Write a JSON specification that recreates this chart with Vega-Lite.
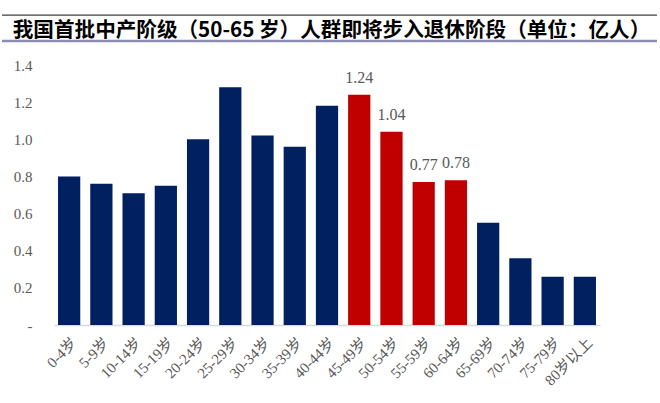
{
  "$schema": "https://vega.github.io/schema/vega-lite/v6.json",
  "background": "white",
  "padding": {"left": 0, "top": 14, "right": 0, "bottom": 0},
  "autosize": {"type": "pad"},
  "width": 546,
  "height": 260,
  "view": {"stroke": null},
  "title": {
    "text": "我国首批中产阶级（50-65 岁）人群即将步入退休阶段（单位：亿人）",
    "anchor": "start",
    "frame": "bounds",
    "dx": 12,
    "dy": 31,
    "offset": 4,
    "font": "Noto Sans CJK SC",
    "fontSize": 20.6,
    "fontWeight": "bold",
    "color": "#000000"
  },
  "data": {
    "values": [
      {"age": "0-4岁", "value": 0.80, "group": "other"},
      {"age": "5-9岁", "value": 0.76, "group": "other"},
      {"age": "10-14岁", "value": 0.71, "group": "other"},
      {"age": "15-19岁", "value": 0.75, "group": "other"},
      {"age": "20-24岁", "value": 1.00, "group": "other"},
      {"age": "25-29岁", "value": 1.28, "group": "other"},
      {"age": "30-34岁", "value": 1.02, "group": "other"},
      {"age": "35-39岁", "value": 0.96, "group": "other"},
      {"age": "40-44岁", "value": 1.18, "group": "other"},
      {"age": "45-49岁", "value": 1.24, "group": "retire"},
      {"age": "50-54岁", "value": 1.04, "group": "retire"},
      {"age": "55-59岁", "value": 0.77, "group": "retire"},
      {"age": "60-64岁", "value": 0.78, "group": "retire"},
      {"age": "65-69岁", "value": 0.55, "group": "other"},
      {"age": "70-74岁", "value": 0.36, "group": "other"},
      {"age": "75-79岁", "value": 0.26, "group": "other"},
      {"age": "80岁以上", "value": 0.26, "group": "other"}
    ]
  },
  "resolve": {"scale": {"x": "independent", "y": "independent", "color": "independent", "strokeWidth": "independent"}},
  "layer": [
    {
      "encoding": {
        "x": {
          "field": "age",
          "type": "nominal",
          "sort": null,
          "scale": {"paddingInner": 0.31, "paddingOuter": 0.125},
          "axis": {
            "title": null,
            "labelAngle": -45,
            "labelFont": "'Liberation Serif', 'Noto Sans CJK SC'",
            "labelFontSize": 15,
            "labelColor": "#595959",
            "labelPadding": 10,
            "ticks": false,
            "domainColor": "#d9d9d9",
            "domainWidth": 1.5
          }
        },
        "y": {
          "field": "value",
          "type": "quantitative",
          "scale": {"domain": [0, 1.4], "nice": false},
          "axis": {
            "title": null,
            "values": [0, 0.2, 0.4, 0.6, 0.8, 1.0, 1.2, 1.4],
            "labelExpr": "datum.value == 0 ? '-\u00a0\u00a0' : format(datum.value, '.1f')",
            "labelFont": "Liberation Serif",
            "labelFontSize": 15,
            "labelColor": "#595959",
            "labelPadding": 22,
            "labelOverlap": false,
            "domain": false,
            "ticks": false,
            "grid": false
          }
        }
      },
      "layer": [
        {
          "mark": {"type": "bar"},
          "encoding": {
            "color": {
              "field": "group",
              "type": "nominal",
              "scale": {"domain": ["other", "retire"], "range": ["#002060", "#c00000"]},
              "legend": null
            }
          }
        },
        {
          "transform": [{"filter": "datum.group == 'retire'"}],
          "mark": {
            "type": "text",
            "baseline": "alphabetic",
            "dy": -12,
            "font": "Liberation Serif",
            "fontSize": 16,
            "color": "#595959"
          },
          "encoding": {
            "text": {"field": "value", "type": "quantitative", "format": ".2f"}
          }
        }
      ]
    },
    {
      "data": {"values": [{"from": -0.0952, "to": 1.1044, "pos": 1.669, "line": "top"}, {"from": -0.0952, "to": 1.1044, "pos": 1.529, "line": "under"}]},
      "mark": {"type": "rule"},
      "encoding": {
        "x": {"field": "from", "type": "quantitative", "scale": {"domain": [0, 1], "nice": false, "zero": false}, "axis": null},
        "x2": {"field": "to"},
        "y": {"field": "pos", "type": "quantitative", "scale": {"domain": [0, 1.4], "nice": false}, "axis": null},
        "color": {"field": "line", "type": "nominal", "scale": {"domain": ["top", "under"], "range": ["#404040", "#8c8cb4"]}, "legend": null},
        "strokeWidth": {"field": "line", "type": "nominal", "scale": {"domain": ["top", "under"], "range": [1.2, 2.5]}, "legend": null}
      }
    }
  ]
}
